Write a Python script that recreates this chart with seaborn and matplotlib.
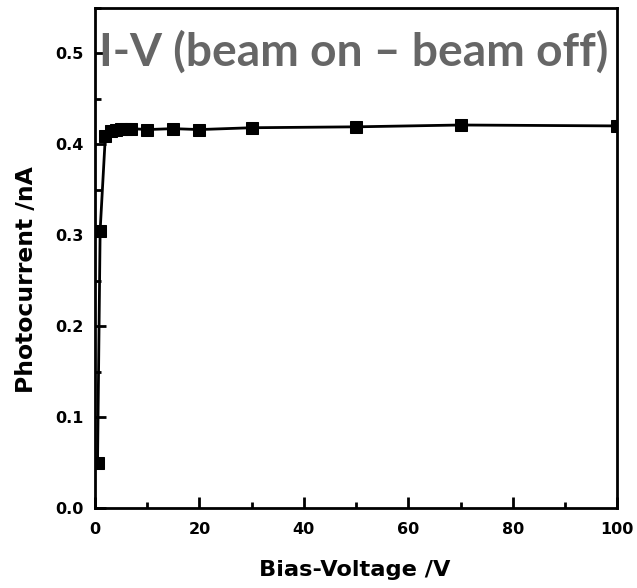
import seaborn as sns
import pandas as pd
import matplotlib.pyplot as plt
from matplotlib.ticker import MultipleLocator

bias_voltage = [0.5, 1, 2, 3, 4, 5, 6, 7, 10, 15, 20, 30, 50, 70, 100]
photocurrent = [0.049, 0.305, 0.409, 0.414, 0.416, 0.417, 0.417, 0.417,
                0.416, 0.417, 0.416, 0.418, 0.419, 0.421, 0.420]

data = pd.DataFrame({'Bias-Voltage /V': bias_voltage, 'Photocurrent /nA': photocurrent})

sns.set_style('ticks')
plt.rcParams['font.family'] = ['DejaVu Sans']
plt.rcParams['text.color'] = 'black'
plt.rcParams['axes.labelcolor'] = 'black'
plt.rcParams['xtick.color'] = 'black'
plt.rcParams['ytick.color'] = 'black'
plt.rcParams['axes.edgecolor'] = 'black'

fig = plt.figure(figsize=(6.37, 5.88), dpi=100)
ax = fig.add_axes([0.149, 0.136, 0.82, 0.851])

sns.lineplot(x='Bias-Voltage /V', y='Photocurrent /nA', data=data, ax=ax,
             color='black', linewidth=2, marker='s', markersize=9,
             markeredgecolor='black', markerfacecolor='black')

ax.set_xlim(0, 100)
ax.set_ylim(0, 0.55)
ax.xaxis.set_major_locator(MultipleLocator(20))
ax.xaxis.set_minor_locator(MultipleLocator(10))
ax.yaxis.set_major_locator(MultipleLocator(0.1))
ax.yaxis.set_minor_locator(MultipleLocator(0.05))
ax.yaxis.set_major_formatter(plt.FormatStrFormatter('%.1f'))
ax.tick_params(which='major', direction='in', length=8, width=2, labelsize=11.5)
ax.tick_params(axis='x', which='major', pad=10)
ax.tick_params(axis='y', which='major', pad=8)
ax.tick_params(which='minor', direction='in', length=4, width=2)
for lbl in ax.get_xticklabels() + ax.get_yticklabels():
    lbl.set_fontweight('bold')
for s in ax.spines.values():
    s.set_linewidth(2)
    s.set_visible(True)

ax.set_xlabel('Bias-Voltage /V', fontsize=16.2, fontweight='bold')
ax.set_ylabel('Photocurrent /nA', fontsize=16.9, fontweight='bold')
ax.xaxis.set_label_coords(0.498, -0.104)
ax.yaxis.set_label_coords(-0.109, 0.456)

ax.text(0.495, 0.911, 'I-V (beam on – beam off)', transform=ax.transAxes,
        ha='center', va='center', fontsize=33.2, fontweight='bold',
        color='#666666', family=['Lato', 'DejaVu Sans'])

plt.savefig('out.png', dpi=100)
